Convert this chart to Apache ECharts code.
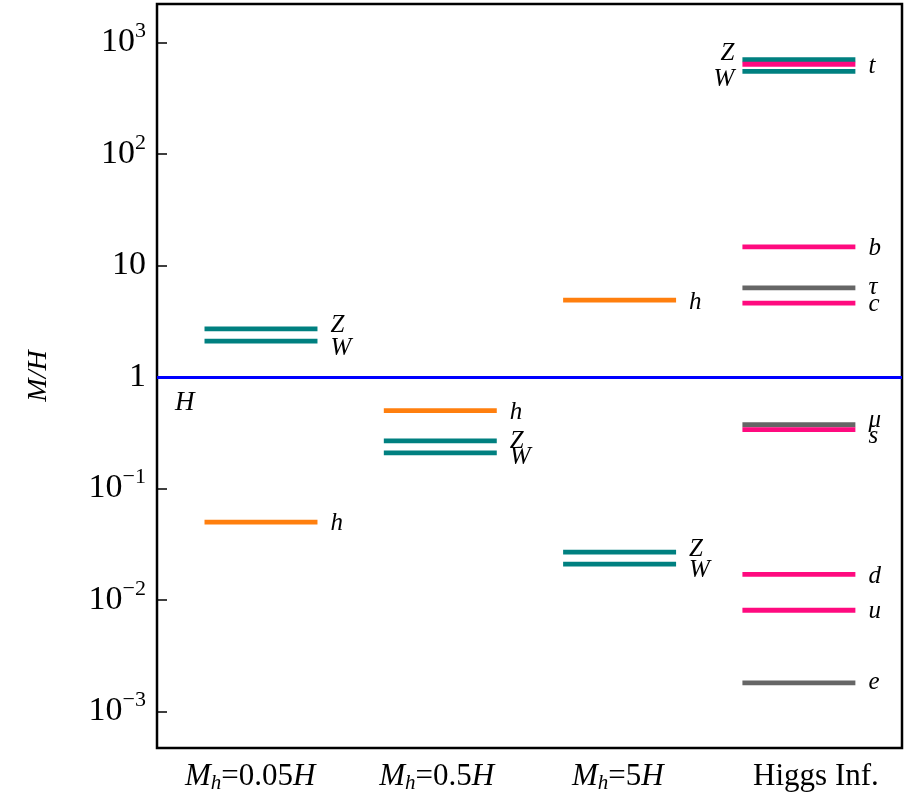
<!DOCTYPE html>
<html>
<head>
<meta charset="utf-8">
<script src="https://cdn.jsdelivr.net/npm/echarts@6/dist/echarts.min.js"></script>
<style>
  html, body { margin: 0; padding: 0; background: #fff; }
  #chart { width: 909px; height: 802px; }
</style>
</head>
<body>
<div id="chart"></div>
<script>
// mass spectra, in units of H (drawn on a log10 scale)
const xTickLabels = ['M_h=0.05H', 'M_h=0.5H', 'M_h=5H', 'Higgs Inf.'];
const yTickExponents = [-3, -2, -1, 0, 1, 2, 3];

const case005Names = ['Z', 'W', 'h'];
const case005Values = [2.7, 2.1, 0.05];
const case05Names = ['h', 'Z', 'W'];
const case05Values = [0.5, 0.267, 0.209];
const case5Names = ['h', 'Z', 'W'];
const case5Values = [4.9, 0.0269, 0.021];
const higgsNames = ['Z', 't', 'W', 'b', 'τ', 'c', 'μ', 's', 'd', 'u', 'e'];
const higgsValues = [700, 638, 550, 14.7, 6.3, 4.6, 0.373, 0.337, 0.017, 0.0081, 0.00181];

// layout / style
const xLabelAt = [-0.06, 0.98, 1.99, 3.095];
const halfWidth = 0.315;
const colorOf = {
  Z: '#008080', W: '#008080', h: '#ff7f0e',
  t: '#ff0a7f', b: '#ff0a7f', c: '#ff0a7f', s: '#ff0a7f', d: '#ff0a7f', u: '#ff0a7f',
  'τ': '#666666', 'μ': '#666666', e: '#666666'
};
// vertical nudges (px) for label text, and labels drawn left of the segment
const defaultNudge = 2;
const nudge = {
  '0|Z': -3, '0|W': 7, '0|h': 1, '1|Z': 0, '1|W': 5, '2|Z': -3, '2|W': 6,
  '3|Z': -6, '3|W': 8, '3|u': 1, '3|e': 0, '3|c': 1, '3|τ': 0, '3|μ': -4, '3|s': 7
};
const leftLabels = { '3|Z': true, '3|W': true };
const serif = '"Liberation Serif", "DejaVu Serif", serif';

const groups = [
  [case005Names, case005Values],
  [case05Names, case05Values],
  [case5Names, case5Values],
  [higgsNames, higgsValues]
];
const items = [];
groups.forEach(function (g, xi) {
  g[0].forEach(function (name, k) {
    items.push({ value: [xi, Math.log10(g[1][k])], name: name });
  });
});

function yLabel(e) {
  if (e === 0) return '{b|1}';
  if (e === 1) return '{b|10}';
  return '{b|10}{s|' + String(e).replace('-', '−') + '}';
}
function xLabel(v) {
  const idx = xLabelAt.indexOf(v);
  const t = xTickLabels[idx];
  if (t === undefined) return '';
  const m = t.match(/^M_h=(.*)H$/);
  if (!m) return '{n|' + t + '}';
  return '{i|M}{sub|h}{n|=' + m[1] + '}{i|H}';
}

const chart = echarts.init(document.getElementById('chart'), null, { renderer: 'canvas' });

const option = {
  backgroundColor: '#fff',
  animation: false,
  grid: {
    left: 157, right: 7, top: 4, bottom: 54,
    show: true, borderColor: '#000', borderWidth: 2.5,
    outerBoundsMode: 'none'
  },
  xAxis: {
    type: 'value',
    min: -0.58, max: 3.575,
    splitLine: { show: false },
    axisLine: { show: false, onZero: false },
    axisTick: { show: false },
    axisLabel: {
      customValues: xLabelAt,
      margin: 12,
      formatter: xLabel,
      rich: {
        i: { fontFamily: serif, fontStyle: 'italic', fontSize: 31, color: '#000', lineHeight: 34 },
        n: { fontFamily: serif, fontSize: 31, color: '#000', lineHeight: 34 },
        sub: { fontFamily: serif, fontStyle: 'italic', fontSize: 21, color: '#000', verticalAlign: 'bottom', lineHeight: 20 }
      }
    }
  },
  yAxis: {
    type: 'value',
    min: -3.327, max: 3.345,
    name: 'M/H',
    nameLocation: 'middle',
    nameRotate: 90,
    nameGap: 104,
    nameTextStyle: { fontFamily: serif, fontStyle: 'italic', fontSize: 28, color: '#000' },
    splitLine: { show: false },
    axisLine: { show: false, onZero: false },
    axisTick: {
      show: true, inside: true, length: 10,
      customValues: yTickExponents,
      lineStyle: { color: '#000', width: 1.5 }
    },
    axisLabel: {
      customValues: yTickExponents,
      margin: 11,
      formatter: function (v) { return yLabel(Math.round(v)); },
      rich: {
        b: { fontFamily: serif, fontSize: 34, color: '#000', lineHeight: 44 },
        s: { fontFamily: serif, fontSize: 22, color: '#000', verticalAlign: 'top', lineHeight: 24 }
      }
    }
  },
  series: [{
    type: 'custom',
    coordinateSystem: 'cartesian2d',
    data: items,
    clip: false,
    renderItem: function (params, api) {
      const it = items[params.dataIndex];
      const x = api.value(0), y = api.value(1);
      const p0 = api.coord([x - halfWidth, y]);
      const p1 = api.coord([x + halfWidth, y]);
      const key = x + '|' + it.name;
      const left = !!leftLabels[key];
      const dy = key in nudge ? nudge[key] : defaultNudge;
      return {
        type: 'group',
        children: [{
          type: 'line',
          shape: { x1: p0[0], y1: p0[1], x2: p1[0], y2: p1[1] },
          style: { stroke: colorOf[it.name], lineWidth: 4.8 }
        }, {
          type: 'text',
          style: {
            text: it.name,
            x: left ? p0[0] - 8 : p1[0] + 13,
            y: p0[1] + dy,
            align: left ? 'right' : 'left',
            verticalAlign: 'middle',
            fontFamily: serif,
            fontStyle: 'italic',
            fontSize: 25,
            fill: '#000'
          }
        }]
      };
    },
    markLine: {
      silent: true,
      symbol: 'none',
      data: [{ yAxis: 0 }],
      lineStyle: { color: '#0000ff', width: 3, type: 'solid' },
      label: {
        show: true,
        formatter: 'H',
        position: 'insideStartBottom',
        distance: [18, 12],
        fontFamily: serif,
        fontStyle: 'italic',
        fontSize: 27,
        color: '#000'
      }
    }
  }]
};

chart.setOption(option);
</script>
</body>
</html>
